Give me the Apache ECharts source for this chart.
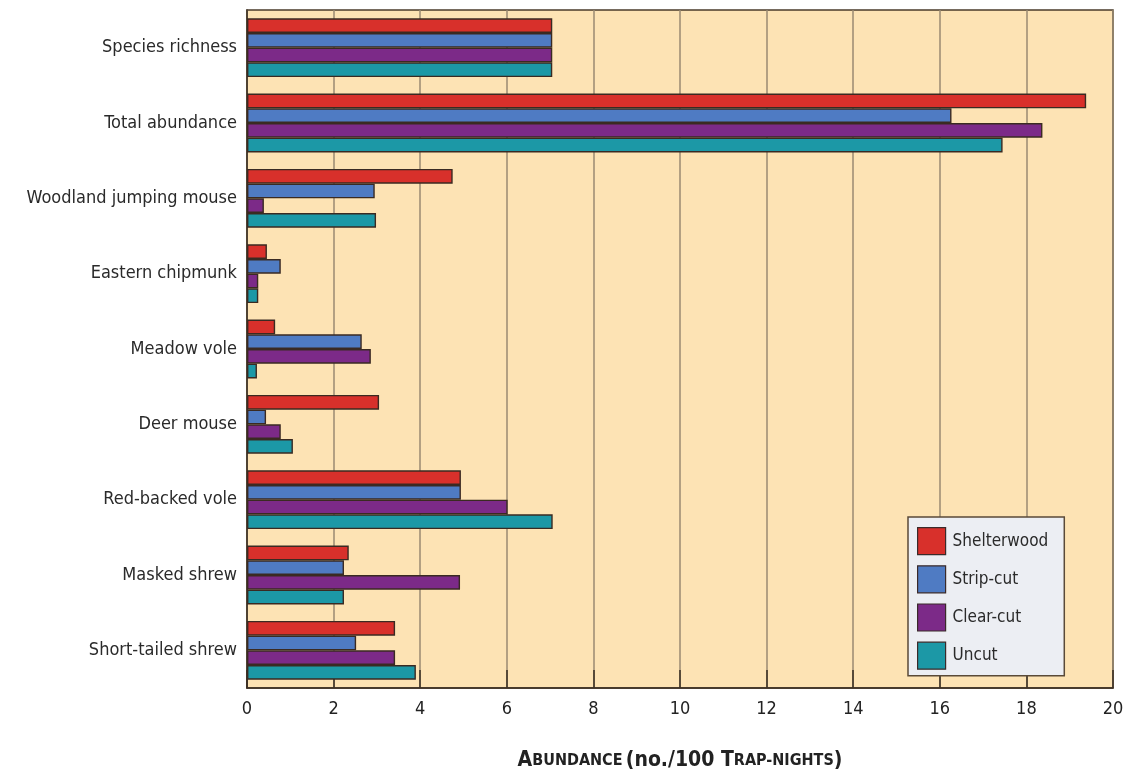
<!DOCTYPE html>
<html><head><meta charset="utf-8">
<script src="https://cdn.jsdelivr.net/npm/echarts@6/dist/echarts.min.js"></script>
<style>html,body{margin:0;padding:0;background:#fff;}#c{width:1128px;height:776px;}</style>
</head><body><div id="c"></div>
<script>
const categories = ["Species richness","Total abundance","Woodland jumping mouse","Eastern chipmunk","Meadow vole","Deer mouse","Red-backed vole","Masked shrew","Short-tailed shrew"];
const shelterwood = [7.05, 19.38, 4.75, 0.46, 0.65, 3.05, 4.94, 2.35, 3.42];
const stripCut    = [7.05, 16.27, 2.95, 0.78, 2.65, 0.44, 4.94, 2.24, 2.52];
const clearCut    = [7.05, 18.37, 0.39, 0.26, 2.86, 0.78, 6.02, 4.92, 3.42];
const uncut       = [7.05, 17.45, 2.98, 0.26, 0.23, 1.06, 7.06, 2.24, 3.90];
const xTicks = [0,2,4,6,8,10,12,14,16,18,20];

const FONT = '"DejaVu Sans Condensed", "Liberation Sans Narrow", sans-serif';
const names = ["Shelterwood","Strip-cut","Clear-cut","Uncut"];
const colors = ["#d8302b","#4f7bc3","#7c2a88","#1c98a6"];
const datas = [shelterwood, stripCut, clearCut, uncut];

const chart = echarts.init(document.getElementById('c'), null, {renderer:'canvas'});
chart.setOption({
  animation:false,
  backgroundColor:'#ffffff',
  grid:{left:247, right:15, top:10, bottom:83, show:true, backgroundColor:'#fde3b4', borderColor:'#4a3b2a', borderWidth:1.5},
  legend:{
    data:names, orient:'vertical', left:908, top:517, width:155,
    icon:'rect',
    itemWidth:28, itemHeight:27, itemGap:10,
    backgroundColor:'#eceef3', borderColor:'#5a4a38', borderWidth:1.5,
    padding:[10,16,6,9],
    textStyle:{fontFamily:FONT, fontSize:17, color:'#2a2a2a', padding:[0,0,0,2]},
    itemStyle:{borderColor:'#3a2a2a', borderWidth:1.2}
  },
  xAxis:{
    type:'value', min:0, max:20, interval:2,
    axisLine:{show:true, lineStyle:{color:'#3a2e22', width:1.5}},
    axisTick:{show:true, inside:true, length:18, lineStyle:{color:'#3a2e22', width:1.5}},
    axisLabel:{fontFamily:FONT, fontSize:18, color:'#222', margin:12,
      formatter:function(v){return xTicks.indexOf(v)>=0 ? String(v) : '';}},
    splitLine:{show:true, lineStyle:{color:'#9a8a72', width:1.5}},
    name:'{a|A}{b|BUNDANCE} {a|(no./100 T}{b|RAP-NIGHTS}{a|)}',
    nameLocation:'middle', nameGap:62,
    nameTextStyle:{rich:{
      a:{fontFamily:FONT, fontSize:21, fontWeight:'bold', color:'#222'},
      b:{fontFamily:FONT, fontSize:16, fontWeight:'bold', color:'#222'}
    }}
  },
  yAxis:{
    type:'category', data:categories, inverse:true,
    axisLine:{show:true, lineStyle:{color:'#3a2e22', width:1.5}},
    axisTick:{show:false},
    axisLabel:{fontFamily:FONT, fontSize:18, color:'#2a2a2a', margin:10}
  },
  series: names.map((n,i)=>({
    name:n, type:'bar', data:datas[i],
    barGap:'0%', barCategoryGap:'22%',
    itemStyle:{color:colors[i], borderColor:'#3a2a22', borderWidth:1.4}
  }))
});
</script></body></html>
